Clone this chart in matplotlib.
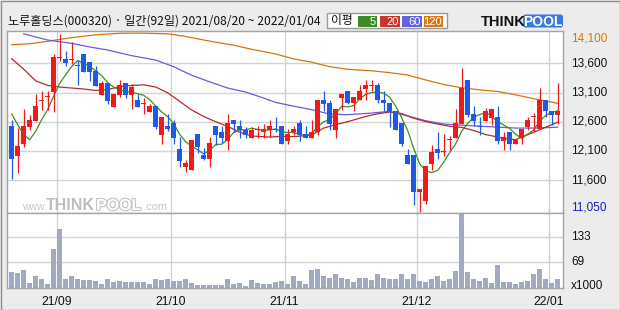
import numpy as np
import pandas as pd
import matplotlib
matplotlib.use("Agg")
import matplotlib.pyplot as plt
import matplotlib.transforms as mtrans
from matplotlib.patches import Rectangle, FancyBboxPatch
from matplotlib import patheffects as pe

# ---------------- data ----------------
title = "노루홀딩스(000320) · 일간(92일) 2021/08/20 ~ 2022/01/04"
opens = [12531, 12018, 12223, 12509, 12617, 12960, 13017, 13114, 13690, 13673,
         13660, 13565, 13759, 13628, 13474, 13062, 13257, 12857, 13062, 13257,
         13062, 12971, 12908, 12771, 12868, 12372, 12526, 12571, 12132, 11829,
         11778, 12389, 12032, 11966, 12520, 12423, 12275, 12623, 12520, 12463,
         12320, 12455, 12417, 12463, 12480, 12520, 12275, 12417, 12577, 12389,
         12320, 12417, 12971, 12914, 12463, 13005, 13120, 12914, 12965, 13165,
         13211, 13222, 12971, 12914, 12777, 12577, 12035, 12035, 11389, 11235,
         11880, 12132, 12075, 12280, 12320, 12566, 13319, 12731, 12525, 12617,
         12663, 12674, 12275, 12417, 12223, 12320, 12509, 12680, 12474, 12971,
         12777, 12720]
highs = [12634, 12491, 12817, 12708, 13074, 13120, 13131, 13759, 14100, 13816,
         13965, 13651, 13760, 13628, 13559, 13302, 13257, 13068, 13314, 13257,
         13245, 13068, 13000, 12908, 12868, 12674, 12731, 12629, 12343, 11943,
         12286, 12389, 12146, 12343, 12520, 12520, 12731, 12623, 12623, 12509,
         12509, 12520, 12566, 12623, 12674, 12520, 12474, 12520, 12623, 12520,
         12623, 12971, 13120, 12971, 12817, 13074, 13120, 13017, 13222, 13308,
         13308, 13262, 13120, 12914, 12777, 12577, 12132, 12035, 11447, 11846,
         12195, 12417, 12389, 12349, 12817, 13519, 13319, 12863, 12674, 12834,
         12817, 12863, 12423, 12417, 12280, 12474, 12674, 12748, 13177, 12971,
         12777, 13262]
lows = [11624, 11721, 12166, 12463, 12610, 12806, 12800, 12771, 13645, 13559,
        13588, 13222, 13455, 13302, 13217, 13062, 12903, 12857, 13028, 13000,
        12811, 12857, 12726, 12760, 12469, 12217, 12446, 12217, 11829, 11732,
        11778, 12069, 11940, 11829, 12206, 12235, 12120, 12417, 12320, 12320,
        12320, 12320, 12320, 12332, 12417, 12223, 12223, 12377, 12275, 12320,
        12320, 12377, 12777, 12463, 12320, 12806, 12903, 12777, 12965, 12965,
        13120, 12914, 12777, 12514, 12463, 12177, 11880, 11178, 11050, 11190,
        11778, 11966, 12018, 12120, 12320, 12566, 12674, 12520, 12377, 12611,
        12549, 12223, 12120, 12120, 12223, 12223, 12463, 12423, 12474, 12674,
        12549, 12566]
closes = [11966, 12189, 12526, 12629, 12863, 12977, 13034, 13702, 13700, 13611,
          13675, 13555, 13457, 13457, 13217, 13262, 12960, 13068, 13228, 13062,
          13188, 12857, 12920, 12868, 12514, 12674, 12469, 12326, 11926, 11892,
          12286, 12172, 11969, 12235, 12377, 12320, 12577, 12566, 12463, 12377,
          12463, 12465, 12474, 12520, 12463, 12223, 12389, 12474, 12377, 12320,
          12423, 12971, 12903, 12560, 12817, 13074, 12914, 13017, 13120, 13222,
          13222, 12965, 12914, 12777, 12463, 12223, 11880, 11389, 11447, 11846,
          12080, 12063, 12080, 12290, 12577, 13177, 12720, 12617, 12515, 12777,
          12817, 12275, 12332, 12223, 12280, 12474, 12623, 12690, 12971, 12777,
          12720, 12777]
volumes = [44, 41, 49, 15, 33, 27.5, 13, 104, 153, 26,
           33, 26, 23, 23, 20.5, 13, 27.5, 18, 22, 18,
           18, 18, 18, 13, 25, 23, 26, 20.5, 22, 25,
           15, 11, 11, 11, 11, 11, 27.5, 13, 15, 9,
           23, 15, 13, 13, 18, 20.5, 13, 33, 20.5, 13,
           49, 51, 33, 28, 38, 30, 26, 18, 30, 30,
           23, 38, 28, 26, 26, 40, 26, 40, 22, 18,
           25, 33, 20.5, 27.5, 46.5, 193.6, 44, 27.5, 20.5, 30,
           15, 61, 18, 18, 13, 18, 20.5, 38, 53, 27.5,
           15, 27.5]

ma5_head = [12731, 12549, 12377, 12292]          # first 4 values
ma20_idx = [0, 2, 4, 6, 8, 10, 12, 14, 16, 18, 20, 22, 24, 26, 28, 30, 32, 34, 36, 38,
            40, 43, 45, 47, 50, 52, 54, 56, 59, 61, 63, 65, 67, 69, 71, 73, 75, 77, 79,
            82, 84, 86, 88, 91]
ma20_val = [13680, 13500, 13300, 13222, 13194, 13177, 13160, 13135, 13150, 13200,
            13222, 13232, 13194, 13095, 12948, 12800, 12690, 12600, 12520, 12420,
            12355, 12337, 12349, 12345, 12370, 12491, 12549, 12600, 12690, 12735,
            12766, 12740, 12660, 12603, 12560, 12522, 12503, 12450, 12380, 12315,
            12292, 12377, 12463, 12590]
ma60_idx = [2, 6, 10, 13, 16, 20, 24, 27, 30, 33, 36, 39, 42, 44, 47, 50, 53, 56, 60,
            63, 66, 69, 72, 75, 79, 84, 87, 91]
ma60_val = [14105, 13999, 13942, 13880, 13828, 13731, 13656, 13542, 13395, 13283,
            13177, 13108, 13005, 12930, 12866, 12806, 12731, 12720, 12748, 12777,
            12698, 12617, 12560, 12540, 12518, 12491, 12491, 12505]
ma120_idx = [0, 3, 6, 10, 14, 18, 21, 26, 29, 33, 37, 40, 44, 47, 50, 53, 56, 60, 63,
             66, 69, 72, 75, 79, 81, 84, 87, 91]
ma120_val = [13918, 13935, 13978, 14040, 14088, 14114, 14119, 14105, 14060, 13980,
             13910, 13840, 13760, 13675, 13620, 13542, 13498, 13472, 13440, 13400,
             13315, 13238, 13180, 13136, 13118, 13060, 12996, 12915]

month_labels = ["21/09", "21/10", "21/11", "21/12", "22/01"]
month_start_idx = [8, 27, 46, 68, 90]
price_ticks = [13600, 13100, 12600, 12100, 11600]
vol_ticks = [133, 69]
ma_labels = ["5", "20", "60", "120"]

# ---------------- styles ----------------
RED = "#f01a1a"
BLUE = "#1f5ae4"
VOLC = "#a2aac3"
C5, C20, C60, C120 = "#3f8f1f", "#b52b27", "#6a5ae0", "#d9730d"
LEG_COLS = ["#3c8c23", "#c8372d", "#6464dc", "#dc7814"]
GRID = "#d3d3d3"
SPINE = "#a4a4a4"
NUMFONT = "Liberation Sans"
KFONT = ["Noto Sans CJK KR", "DejaVu Sans"]

W, H = 620, 310
fig = plt.figure(figsize=(6.2, 3.1), dpi=100, facecolor="#ececec")
px = mtrans.Affine2D().scale(1 / W, -1 / H).translate(0, 1) + fig.transFigure

L_, R_ = 7.3, 563.0
T_, M_, B_ = 30.5, 212.5, 287.7
axp = fig.add_axes([L_ / W, 1 - M_ / H, (R_ - L_) / W, (M_ - T_) / H])
axv = fig.add_axes([L_ / W, 1 - B_ / H, (R_ - L_) / W, (B_ - M_) / H])

n = len(closes)
x = np.arange(n)
O = np.array(opens, float); Hh = np.array(highs, float)
Lo = np.array(lows, float); C = np.array(closes, float)
cols = np.where(C >= O, RED, BLUE)

for ax in (axp, axv):
    ax.set_facecolor("white")
    ax.set_xlim(-0.73, 91.9)
    ax.set_xticks([]); ax.set_yticks([])
    for s in ax.spines.values():
        s.set_color(SPINE); s.set_linewidth(1.0)
    for m in month_start_idx:
        ax.axvline(m - 0.5, color=GRID, lw=1.0, zorder=0)

axp.set_ylim(11045, 14162)
axv.set_ylim(4, 196.5)
for p in price_ticks:
    axp.axhline(p, color=GRID, lw=1.0, zorder=0)
for v in vol_ticks:
    axv.axhline(v, color=GRID, lw=1.0, zorder=0)

# moving averages
ma5 = pd.Series(C).rolling(5).mean().to_numpy()
ma5[:4] = ma5_head
axp.plot(ma120_idx, ma120_val, color=C120, lw=0.9, zorder=1)
axp.plot(ma60_idx, ma60_val, color=C60, lw=0.9, zorder=1)
axp.plot(ma20_idx, ma20_val, color=C20, lw=0.9, zorder=1)
axp.plot(x, ma5, color=C5, lw=0.9, zorder=1)

# candles
axp.vlines(x, Lo, Hh, colors=cols, lw=0.9, zorder=2)
body_lo = np.minimum(O, C)
body_h = np.maximum(np.abs(C - O), 17)
axp.bar(x, body_h, bottom=body_lo, width=0.8, color=cols, linewidth=0, zorder=3)

# volume
axv.bar(x, volumes, width=0.8, color=VOLC, linewidth=0, zorder=2)

# right axis labels
tp = mtrans.blended_transform_factory(axp.transAxes, axp.transData)
tv = mtrans.blended_transform_factory(axv.transAxes, axv.transData)
lx = (571 - L_) / (R_ - L_)
for p in price_ticks:
    axp.text(lx, p, f"{p:,}", transform=tp, ha="left", va="center",
             fontsize=8.5, family=NUMFONT, color="#111111", clip_on=False)
axp.text(lx, (M_ - 38.3) / (M_ - T_), f"{int(max(highs)):,}", transform=axp.transAxes,
         ha="left", va="center", fontsize=8.5, family=NUMFONT, color="#d9730d", clip_on=False)
axp.text(lx, (M_ - 207.3) / (M_ - T_), f"{int(min(lows)):,}", transform=axp.transAxes,
         ha="left", va="center", fontsize=8.5, family=NUMFONT, color="#1a1ad0", clip_on=False)
for v in vol_ticks:
    axv.text(lx, v, f"{v}", transform=tv, ha="left", va="center",
             fontsize=8.5, family=NUMFONT, color="#111111", clip_on=False)
axv.text(lx, (B_ - 286) / (B_ - M_), "x1000", transform=axv.transAxes, ha="left",
         va="center", fontsize=8.5, family=NUMFONT, color="#111111", clip_on=False)

# x labels
tx = mtrans.blended_transform_factory(axv.transData, axv.transAxes)
for m, lab in zip(month_start_idx, month_labels):
    axv.text(m - 0.5, -(301.7 - B_) / (B_ - M_), lab, transform=tx, ha="center",
             va="center", fontsize=8.7, family=NUMFONT, color="#111111", clip_on=False)

# watermark
fig.text(22, 210, "www.", transform=px, fontsize=7.5, family=NUMFONT, color="#c6c6c6",
         va="baseline", ha="left")
fig.text(46, 210, "THINK", transform=px, fontsize=11.5, family=NUMFONT, weight="bold",
         color="#bdbdbd", va="baseline", ha="left")
fig.text(96, 210, "POOL", transform=px, fontsize=11.5, family=NUMFONT, weight="bold",
         color="white", va="baseline", ha="left",
         path_effects=[pe.withStroke(linewidth=1.6, foreground="#c4c4c4")])
fig.text(143, 210, ".com", transform=px, fontsize=8, family=NUMFONT, color="#c6c6c6",
         va="baseline", ha="left")

# header
fig.text(8, 21.5, title, transform=px, ha="left", va="center", fontsize=8.7,
         family=KFONT, color="#111111")
fig.patches.append(Rectangle((327, 12.7), 120, 15.6, transform=px, facecolor="white",
                             edgecolor="#9a9a9a", lw=1.0))
fig.text(331, 20.8, "이평", transform=px, ha="left", va="center", fontsize=8.5,
         family=KFONT, color="#111111")
boxes = [(358, 377), (380, 400), (402, 422), (424, 443)]
for (x0, x1), c, lab in zip(boxes, LEG_COLS, ma_labels):
    fig.patches.append(Rectangle((x0, 16), x1 - x0, 10.7, transform=px, facecolor=c,
                                 edgecolor="none"))
    fig.text(x1 - 1.2, 21.6, lab, transform=px, ha="right", va="center", fontsize=8,
             family=NUMFONT, color="white")

# logo
fig.text(481, 26.5, "THINK", transform=px, ha="left", va="baseline", fontsize=10.5,
         family=NUMFONT, weight="heavy", color="#111111")
fig.patches.append(FancyBboxPatch((523, 14.5), 40, 13, transform=px,
                                  boxstyle="round,pad=0,rounding_size=2.5",
                                  facecolor="#3b78dc", edgecolor="none"))
fig.text(543, 26.2, "POOL", transform=px, ha="center", va="baseline", fontsize=10,
         family=NUMFONT, weight="bold", color="white")

# outer frame
fig.patches.append(Rectangle((0.5, 0.5), W - 1, H - 1, transform=px, fill=False,
                             edgecolor="#8e8e8e", lw=1.0))

fig.savefig("out.png", dpi=100, facecolor=fig.get_facecolor())
